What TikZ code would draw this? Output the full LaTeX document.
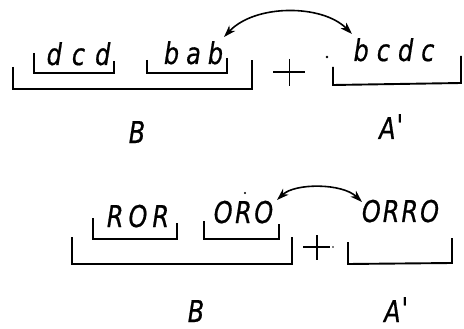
\documentclass[tikz,border=0pt]{standalone}
\usepackage{fontspec}
\usepackage{graphicx}
\newfontfamily\gost{DejaVu Sans Oblique}[FakeStretch=0.8,FakeBold=0.6]
\usetikzlibrary{arrows.meta}

\begin{document}
\begin{tikzpicture}[x=1pt,y=-1pt,
  lbl/.style={font=\gost\fontsize{30}{32}\selectfont, inner sep=0pt, anchor=base, text depth=0pt},
  brk/.style={line width=1.9pt, line join=miter, line cap=butt},
  plussign/.style={line width=1.6pt},
  swaparrow/.style={line width=1.6pt,
    {Stealth[length=12pt,width=8pt,inset=3.5pt]}-{Stealth[length=12pt,width=8pt,inset=3.5pt]}},
  speck/.style={fill=black},
]
\useasboundingbox (0,0) rectangle (464,329);

% ---------- upper row ----------
\node[lbl] (dcd)  at (78.5,65)  {d\kern10pt c\kern10pt d};
\node[lbl] (bab)  at (193.5,64) {b\kern7pt a\kern7pt b};
\node[lbl] (bcdc) at (394,61)   {b\kern8pt c\kern8pt d\kern8pt c};
\node[lbl] (B1)   at (137,143)  {B};
\node[lbl] (A1)   at (392,139)  {A\kern1pt\raisebox{3pt}{\textquotesingle}};

% brackets
\draw[brk] (13,67) -- (13,89) -- (252,89) -- (252,60);
\draw[brk] (34,53) -- (34,73) -- (114,73) -- (114,61);
\draw[brk] (147,60) -- (147,73) -- (227,73) -- (227,58);
\draw[brk] (333,67) -- (333,85) -- (461,83) -- (461,56);

% plus sign and speck
\draw[plussign] (273,72) -- (305,72);
\draw[plussign] (289.5,59) -- (289.5,86);
\fill[speck] (327,57) circle (1.3);

% exchange arrow
\coordinate (u1) at (224,37);
\coordinate (u2) at (352,34);
\draw[swaparrow] (u1) .. controls (255,4) and (322,4) .. (u2);

% ---------- lower row ----------
\node[lbl] (ROR)  at (138,227)   {R\kern5pt O\kern5pt R};
\node[lbl] (ORO)  at (243.5,223) {O\kern2.5pt R\kern2.5pt O};
\node[lbl] (ORRO) at (400.5,222) {O\kern2pt R\kern2pt R\kern2pt O};
\node[lbl] (B2)   at (196,322)   {B};
\node[lbl] (A2)   at (397,322)   {A\kern1pt\raisebox{3pt}{\textquotesingle}};

% brackets
\draw[brk] (72,237) -- (72,264) -- (292,264) -- (292,237);
\draw[brk] (93,218) -- (93,239) -- (177,239) -- (177,223);
\draw[brk] (204,221) -- (204,239) -- (279,239) -- (279,224);
\draw[brk] (348,242) -- (348,264) -- (452,263) -- (452,238);

% plus sign and specks
\draw[plussign] (303,247) -- (330,247);
\draw[plussign] (317,235) -- (317,260);
\fill[speck] (333,247) circle (0.8);
\fill[speck] (245,193) circle (1.2);

% exchange arrow
\coordinate (l1) at (277,200);
\coordinate (l2) at (362,202);
\draw[swaparrow] (l1) .. controls (295,183) and (342,183) .. (l2);
\end{tikzpicture}
\end{document}
